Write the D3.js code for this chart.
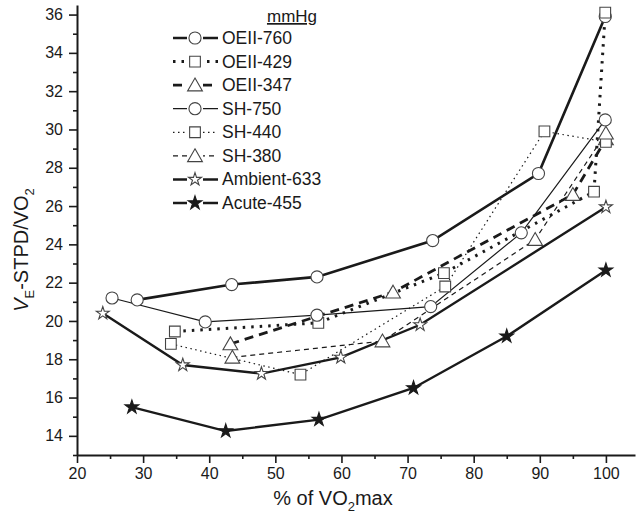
<!DOCTYPE html>
<html>
<head>
<meta charset="utf-8">
<script src="https://cdn.jsdelivr.net/npm/d3@7"></script>
<style>
  body { margin: 0; background: #fff; }
  svg { display: block; font-family: "Liberation Sans", Arial, sans-serif; }
</style>
</head>
<body>
<svg id="drawing_region"></svg>
<script>
// series data: [% of VO2max, VE-STPD/VO2]
const oeii760 = [[29.1, 21.1], [43.4, 21.9], [56.3, 22.3], [73.8, 24.2], [89.8, 27.7], [99.9, 35.9]];
const oeii429 = [[34.8, 19.45], [56.5, 19.9], [75.5, 22.5], [98.2, 26.75], [99.9, 36.1]];
const oeii347 = [[43.2, 18.8], [67.8, 21.5], [95.0, 26.6], [100, 29.5]];
const sh750 = [[25.3, 21.2], [39.4, 19.95], [56.3, 20.3], [73.5, 20.75], [87.2, 24.6], [99.9, 30.5]];
const sh440 = [[34.2, 18.8], [53.8, 17.2], [75.7, 21.8], [90.7, 29.9], [100, 29.35]];
const sh380 = [[43.5, 18.1], [66.2, 18.95], [89.3, 24.25], [100, 29.8]];
const ambient633 = [[23.9, 20.4], [36.0, 17.7], [47.9, 17.25], [59.9, 18.1], [71.9, 19.8], [100, 25.95]];
const acute455 = [[28.3, 15.5], [42.5, 14.25], [56.6, 14.85], [70.9, 16.5], [85.0, 19.2], [100, 22.65]];

const seriesNames = ['OEII-760', 'OEII-429', 'OEII-347', 'SH-750', 'SH-440', 'SH-380', 'Ambient-633', 'Acute-455'];
const xTicks = [20, 30, 40, 50, 60, 70, 80, 90, 100];
const yTicks = [14, 16, 18, 20, 22, 24, 26, 28, 30, 32, 34, 36];

const W = 636, H = 517;
const svg = d3.select('#drawing_region').attr('width', W).attr('height', H);

const x = d3.scaleLinear().domain([20, 104.4]).range([77, 635]);
const y = d3.scaleLinear().domain([13, 36.5]).range([455, 5]);

const ink = '#1a1a1a';
const mark = '#444';

// styles for each series
const styles = [
  { data: oeii760, width: 2.6, dash: null, sym: d3.symbolCircle, size: 115 },
  { data: oeii429, width: 3, dash: '2.5,6', sym: d3.symbolSquare, size: 115 },
  { data: oeii347, width: 2.8, dash: '9,6', sym: d3.symbolTriangle, size: 95 },
  { data: sh750, width: 1.2, dash: null, sym: d3.symbolCircle, size: 115 },
  { data: sh440, width: 1.2, dash: '1.5,3.5', sym: d3.symbolSquare, size: 115 },
  { data: sh380, width: 1.2, dash: '5,4', sym: d3.symbolTriangle, size: 95 },
  { data: ambient633, width: 2.4, dash: null, sym: d3.symbolStar, size: 52, fill: '#fff' },
  { data: acute455, width: 2.4, dash: null, sym: d3.symbolStar, size: 58, fill: ink }
];

// axes
const xAxis = d3.axisBottom(x).tickValues(xTicks).tickSize(8).tickPadding(5).tickSizeOuter(0);
const yAxis = d3.axisLeft(y).tickValues(yTicks).tickSize(8).tickPadding(6).tickSizeOuter(0);

// minor ticks
svg.append('g')
  .attr('transform', `translate(0, ${y(13)})`)
  .call(d3.axisBottom(x).tickValues(d3.range(25, 104, 10)).tickSize(4).tickFormat('').tickSizeOuter(0))
  .call(g => g.select('.domain').remove())
  .selectAll('line').attr('stroke', ink).attr('stroke-width', 1.6);
svg.append('g')
  .attr('transform', `translate(${x(20)}, 0)`)
  .call(d3.axisLeft(y).tickValues(d3.range(13, 36.1, 2)).tickSize(4).tickFormat('').tickSizeOuter(0))
  .call(g => g.select('.domain').remove())
  .selectAll('line').attr('stroke', ink).attr('stroke-width', 1.6);

const gx = svg.append('g')
  .attr('transform', `translate(0, ${y(13)})`)
  .call(xAxis);
const gy = svg.append('g')
  .attr('transform', `translate(${x(20)}, 0)`)
  .call(yAxis);

[gx, gy].forEach(g => {
  g.select('.domain').attr('stroke', ink).attr('stroke-width', 2);
  g.selectAll('.tick line').attr('stroke', ink).attr('stroke-width', 1.6);
  g.selectAll('.tick text').attr('fill', ink).style('font-size', '16px')
    .style('font-family', '"Liberation Sans", Arial, sans-serif');
});

// axis titles
const xt = svg.append('text')
  .attr('x', 333).attr('y', 505)
  .attr('text-anchor', 'middle')
  .attr('fill', ink)
  .style('font-size', '20px');
xt.append('tspan').text('% of VO');
xt.append('tspan').attr('dy', 6).style('font-size', '13px').text('2');
xt.append('tspan').attr('dy', -6).text('max');

const yt = svg.append('text')
  .attr('transform', 'translate(28, 250) rotate(-90)')
  .attr('text-anchor', 'middle')
  .attr('fill', ink)
  .style('font-size', '20px');
yt.append('tspan').style('font-style', 'italic').text('V');
yt.append('tspan').attr('dy', 6).style('font-size', '13px').text('E');
yt.append('tspan').attr('dy', -6).text('-STPD/VO');
yt.append('tspan').attr('dy', 6).style('font-size', '13px').text('2');

// lines
const line = d3.line().x(d => x(d[0])).y(d => y(d[1]));
const plot = svg.append('g');

styles.forEach(s => {
  plot.append('path')
    .datum(s.data)
    .attr('d', line)
    .attr('fill', 'none')
    .attr('stroke', ink)
    .attr('stroke-width', s.width)
    .attr('stroke-dasharray', s.dash);
});

// markers on top
styles.forEach(s => {
  const sym = d3.symbol().type(s.sym).size(s.size);
  plot.selectAll(null)
    .data(s.data)
    .join('path')
    .attr('transform', d => `translate(${x(d[0])}, ${y(d[1]) + (s.sym === d3.symbolTriangle ? 1.5 : 0)})`)
    .attr('d', sym)
    .attr('fill', s.fill || '#fff')
    .attr('stroke', s.fill === ink ? ink : mark)
    .attr('stroke-width', 1.1);
});

// legend
const legend = svg.append('g');
legend.append('text')
  .attr('x', 292).attr('y', 22)
  .attr('text-anchor', 'middle')
  .attr('fill', ink)
  .style('font-size', '17px')
  .style('text-decoration', 'underline')
  .text('mmHg');

const rowY = d3.scalePoint().domain(seriesNames).range([38, 203]);

seriesNames.forEach((name, i) => {
  const s = styles[i];
  const ly = rowY(name);
  const row = legend.append('g');
  row.append('line')
    .attr('x1', 173).attr('x2', 218)
    .attr('y1', ly).attr('y2', ly)
    .attr('stroke', ink)
    .attr('stroke-width', s.width)
    .attr('stroke-dasharray', s.dash);
  row.append('rect')
    .attr('x', 187).attr('y', ly - 7).attr('width', 16).attr('height', 14)
    .attr('fill', '#fff');
  row.append('path')
    .attr('transform', `translate(195, ${ly + (s.sym === d3.symbolTriangle ? 1.5 : 0)})`)
    .attr('d', d3.symbol().type(s.sym).size(s.size)())
    .attr('fill', s.fill || '#fff')
    .attr('stroke', s.fill === ink ? ink : mark)
    .attr('stroke-width', 1.1);
  row.append('text')
    .attr('x', 222).attr('y', ly + 6)
    .attr('fill', ink)
    .style('font-size', '17.5px')
    .text(name);
});
</script>
</body>
</html>
